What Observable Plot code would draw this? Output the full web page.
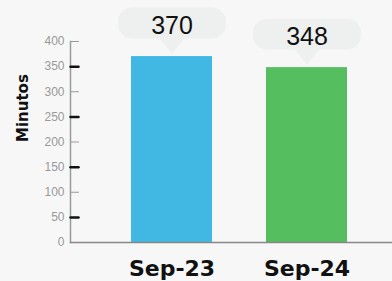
<!DOCTYPE html>
<html><head><meta charset="utf-8">
<script src="https://cdn.jsdelivr.net/npm/d3@7"></script>
<script src="https://cdn.jsdelivr.net/npm/@observablehq/plot@0.6"></script>
<style>html,body{margin:0;padding:0;background:#f7f7f7;overflow:hidden}</style>
</head><body><div id="chart"></div>
<script>
const categories = ["Sep-23", "Sep-24"];
const minutes = [370, 348];
const barColors = ["#41b8e4", "#55be5e"];
const yTickLabels = [0, 50, 100, 150, 200, 250, 300, 350, 400];
const yTicksDark = [50, 150, 250, 350];
const yTicksLight = [100, 200, 300, 400];
const yLabel = "Minutos";

const data = categories.map((c, i) => ({cat: c, value: minutes[i], color: barColors[i]}));

const bubble = {
  draw(ctx) {
    const w = 54, top = -49, bot = -18, r = 14, tipY = -3, tw = 12;
    ctx.moveTo(-w + r, top);
    ctx.lineTo(w - r, top);
    ctx.arcTo(w, top, w, top + r, r);
    ctx.lineTo(w, bot - r);
    ctx.arcTo(w, bot, w - r, bot, r);
    ctx.lineTo(tw, bot);
    ctx.lineTo(0, tipY);
    ctx.lineTo(-tw, bot);
    ctx.lineTo(-w + r, bot);
    ctx.arcTo(-w, bot, -w, bot - r, r);
    ctx.lineTo(-w, top + r);
    ctx.arcTo(-w, top, -w + r, top, r);
    ctx.closePath();
  }
};
const tickShape = {
  draw(ctx, l) { ctx.moveTo(0, 0); ctx.lineTo(0, -l); }
};

const chart = Plot.plot({
  width: 392,
  height: 281,
  marginLeft: 70,
  marginRight: 0,
  marginTop: 41,
  marginBottom: 39,
  style: {background: "transparent", fontFamily: "Liberation Sans, Arial, sans-serif"},
  x: {domain: categories, range: [90.5, 387.5], paddingInner: 0.4, paddingOuter: 0.3},
  y: {domain: [0, 400]},
  marks: [
    Plot.barY(data, {x: "cat", y: "value", fill: "color"}),
    Plot.frame({anchor: "left", stroke: "#999", strokeWidth: 1.5}),
    Plot.frame({anchor: "bottom", stroke: "#888", strokeWidth: 1.5}),
    Plot.vector(yTicksDark, {y: d => d, frameAnchor: "left", rotate: 90, length: 8, anchor: "start", shape: tickShape, stroke: "#111", strokeWidth: 2.5}),
    Plot.vector(yTicksLight, {y: d => d, frameAnchor: "left", rotate: 90, length: 8, anchor: "start", shape: tickShape, stroke: "#999", strokeWidth: 1}),
    Plot.axisY({ticks: yTickLabels, tickSize: 0, tickPadding: 6, fontSize: 12, fill: "#999", label: null}),
    Plot.axisX({tickSize: 0, tickPadding: 18, fontSize: 22, fontWeight: "bold", fontFamily: "DejaVu Sans", fill: "#111", label: null}),
    Plot.text([yLabel], {frameAnchor: "left", dx: -47, rotate: -90, text: d => d, fontSize: 15, fontWeight: "bold", fontFamily: "DejaVu Sans", fill: "#111"}),
    Plot.dot(data, {x: "cat", y: "value", symbol: bubble, fill: "#eef0f0", stroke: "none", r: 10}),
    Plot.text(data, {x: "cat", y: "value", text: d => String(d.value), dy: -31, fontSize: 25, fill: "#111", lineAnchor: "middle"})
  ]
});
document.getElementById("chart").appendChild(chart);
</script>
</body></html>
